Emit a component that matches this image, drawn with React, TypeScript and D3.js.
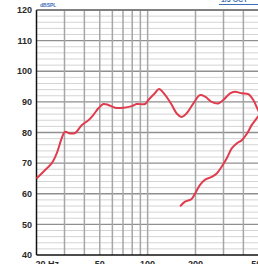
import React, { useEffect, useRef } from 'react'
import * as d3 from 'd3'

// upper response curve (Hz, dB SPL)
const freqUpper = [20, 22.6, 24.9, 26.8, 28.8, 30.2, 32.5, 34.9, 38.5, 42.4, 45.5, 49, 52.6, 56.6, 62.4, 70.3, 79.4, 85.3, 96.3, 101, 111, 118, 129, 142, 152, 164, 176, 194, 213, 230, 253, 278, 299, 330, 354, 391, 430, 462, 489, 520]
const splUpper = [65, 67.7, 69.9, 73.2, 78.1, 80.2, 79.7, 79.8, 82.4, 84, 85.7, 87.9, 89.3, 89, 88.1, 88.1, 88.6, 89.3, 89.3, 90.6, 92.8, 94.2, 92.2, 89, 86.3, 85.1, 86.3, 89.5, 92.2, 91.7, 90, 89.5, 90.6, 92.8, 93.3, 92.8, 92.5, 90.6, 87.9, 85]

// lower curve
const freqLower = [160, 172, 189, 199, 213, 230, 253, 272, 292, 314, 338, 363, 391, 420, 451, 485, 524]
const splLower = [55.9, 57.4, 58.3, 60.1, 62.8, 64.6, 65.5, 66.6, 68.8, 71.5, 74.8, 76.4, 77.5, 79.5, 82.4, 84.6, 87]

const yTicks = [40, 50, 60, 70, 80, 90, 100, 110, 120]
const xLabels = [
  { f: 20, text: '20 Hz' },
  { f: 50, text: '50' },
  { f: 100, text: '100' },
  { f: 200, text: '200' },
  { f: 500, text: '500' },
]
const xGrid = [30, 40, 50, 60, 70, 80, 90, 100, 200, 300, 400, 500, 600]

const W = 258
const H = 264

const App: React.FC = () => {
  const ref = useRef<SVGSVGElement>(null)

  useEffect(() => {
    document.body.style.margin = '0'
    if (!ref.current) return
    const svg = d3.select(ref.current)
    svg.selectAll('*').remove()

    const x = d3.scaleLog().domain([20, 20000]).range([36.5, 36.5 + 159 * 3])
    const y = d3.scaleLinear().domain([40, 120]).range([255, 10])
    const font = 'Liberation Sans, Arial, sans-serif'

    svg.append('rect').attr('width', W).attr('height', H).attr('fill', '#fff')

    // horizontal grid, every 2 dB
    const hLines = d3.range(42, 121, 2)
    svg.append('g')
      .selectAll('line')
      .data(hLines)
      .join('line')
      .attr('x1', x(20))
      .attr('x2', W)
      .attr('y1', d => y(d))
      .attr('y2', d => y(d))
      .attr('stroke', d => (d % 10 === 0 ? '#8f8f8f' : '#cfcfcf'))
      .attr('stroke-width', d => (d % 10 === 0 ? 1.4 : 0.9))

    // vertical grid
    svg.append('g')
      .selectAll('line')
      .data(xGrid)
      .join('line')
      .attr('x1', d => x(d))
      .attr('x2', d => x(d))
      .attr('y1', y(120))
      .attr('y2', y(40))
      .attr('stroke', '#a6a6a6')
      .attr('stroke-width', 1.5)

    // axes frame
    svg.append('line')
      .attr('x1', x(20)).attr('x2', x(20))
      .attr('y1', y(120)).attr('y2', y(40))
      .attr('stroke', '#111').attr('stroke-width', 1.5)
    svg.append('line')
      .attr('x1', x(20)).attr('x2', W)
      .attr('y1', y(40)).attr('y2', y(40))
      .attr('stroke', '#111').attr('stroke-width', 1.5)
    svg.append('line')
      .attr('x1', x(20)).attr('x2', W)
      .attr('y1', y(120)).attr('y2', y(120))
      .attr('stroke', '#555').attr('stroke-width', 1)

    // y labels
    svg.append('g')
      .selectAll('text')
      .data(yTicks)
      .join('text')
      .attr('x', 32)
      .attr('y', d => y(d))
      .attr('dy', '0.35em')
      .attr('text-anchor', 'end')
      .style('font-family', font)
      .style('font-size', '9px')
      .style('font-weight', 'bold')
      .style('fill', '#2a2a2a')
      .text(d => d)

    // x labels (cut by the bottom edge, as in the original)
    svg.append('g')
      .selectAll('text')
      .data(xLabels)
      .join('text')
      .attr('x', d => (d.f === 20 ? x(d.f) - 1 : x(d.f)))
      .attr('y', 266.5)
      .attr('text-anchor', d => (d.f === 20 ? 'start' : 'middle'))
      .style('font-family', font)
      .style('font-size', '9px')
      .style('font-weight', 'bold')
      .style('fill', '#2a2a2a')
      .text(d => d.text)

    // unit label
    svg.append('text')
      .attr('x', 40)
      .attr('y', 6.5)
      .style('font-family', font)
      .style('font-size', '5px')
      .style('font-weight', 'bold')
      .style('fill', '#3b6fb5')
      .text('dBSPL')

    // top right header fragment, mostly off the top edge
    svg.append('text')
      .attr('x', 221)
      .attr('y', 1.5)
      .style('font-family', font)
      .style('font-size', '7px')
      .style('font-weight', 'bold')
      .style('fill', '#3b6fb5')
      .text('1/3 OCT')
    svg.append('line')
      .attr('x1', 219).attr('x2', W)
      .attr('y1', 4.5).attr('y2', 4.5)
      .attr('stroke', '#3b6fb5').attr('stroke-width', 1)

    const line = d3.line<[number, number]>()
      .x(d => x(d[0]))
      .y(d => y(d[1]))
      .curve(d3.curveCatmullRom.alpha(0.5))

    const upper = freqUpper.map((f, i) => [f, splUpper[i]] as [number, number])
    const lower = freqLower.map((f, i) => [f, splLower[i]] as [number, number])

    svg.selectAll('path.curve')
      .data([upper, lower])
      .join('path')
      .attr('class', 'curve')
      .attr('d', d => line(d))
      .attr('fill', 'none')
      .attr('stroke', '#e03c4e')
      .attr('stroke-width', 2)
      .attr('stroke-linejoin', 'round')
  }, [])

  return <svg ref={ref} width={W} height={H} style={{ display: 'block' }} />
}

export default App
